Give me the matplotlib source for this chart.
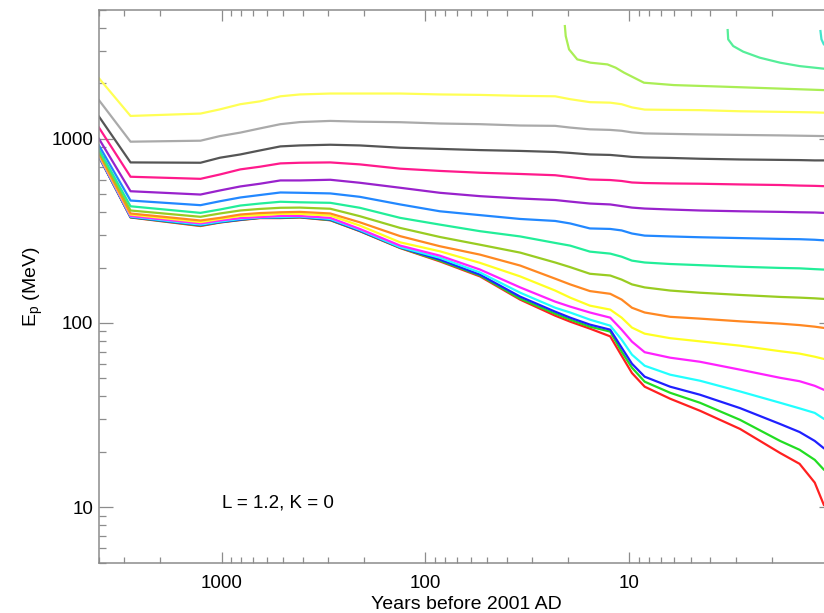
import numpy as np
import matplotlib
matplotlib.use("Agg")
import matplotlib.pyplot as plt
from matplotlib.ticker import FixedLocator, LogLocator, NullFormatter, FuncFormatter

plt.rcParams['font.family'] = ['Liberation Sans', 'DejaVu Sans']

# Years before 2001 AD (common sampling for the main family of curves)
years = [4000, 2800, 1270, 1020, 810, 649, 515, 413, 293, 210, 133, 85, 54, 34.3, 23.1,
         19.5, 15.6, 12.4, 10.9, 9.7, 8.4, 6.3, 4.5, 2.86, 1.82, 1.46, 1.23, 1.11, 1.0]

# Cutoff energies (MeV), curves from top to bottom
ep_lightyellow = [2130, 1330, 1370, 1444, 1540, 1596, 1700, 1740, 1760, 1760, 1760, 1740, 1730, 1710, 1700,
                  1640, 1580, 1570, 1540, 1480, 1440, 1435, 1430, 1410, 1400, 1395, 1390, 1385, 1382]
ep_lightgray = [1620, 964, 976, 1034, 1080, 1138, 1200, 1232, 1250, 1238, 1230, 1210, 1200, 1180, 1175,
                1150, 1125, 1117, 1105, 1083, 1069, 1063, 1056, 1049, 1043, 1039, 1036, 1034, 1030]
ep_darkgray = [1320, 744, 741, 789, 822, 864, 909, 920, 928, 920, 894, 881, 868, 859, 848,
               838, 822, 817, 807, 797, 792, 787, 779, 772, 768, 766, 763, 763, 761]
ep_pink = [1150, 622, 606, 640, 682, 705, 735, 741, 744, 726, 688, 669, 654, 644, 634,
           620, 601, 597, 590, 579, 575, 572, 570, 565, 561, 557, 555, 553, 551]
ep_purple = [1000, 519, 498, 524, 551, 570, 594, 594, 599, 577, 542, 509, 488, 474, 465,
             456, 445, 440, 431, 423, 418, 413, 408, 404, 401, 399, 398, 396, 395]
ep_azure = [920, 462, 436, 458, 480, 495, 511, 509, 505, 484, 440, 404, 385, 367, 358,
            347, 326, 324, 318, 306, 298, 295, 292, 289, 286, 285, 283, 281, 280]
ep_springgreen = [875, 430, 396, 413, 434, 445, 455, 452, 449, 422, 372, 342, 315, 295, 272,
                  263, 244, 238, 229, 218, 213, 209, 206, 202, 199, 198, 196, 195, 194]
ep_yellowgreen = [854, 408, 377, 393, 408, 416, 422, 423, 417, 380, 328, 293, 266, 241, 213,
                  201, 185, 181, 172, 162, 156, 150, 146, 142, 138.5, 137.3, 136.1, 135.1, 134.4]
ep_orange = [833, 393, 360, 372, 388, 395, 399, 401, 393, 352, 296, 261, 235, 205, 174,
             162, 149, 144, 134, 121, 114, 108, 105.6, 102.1, 99.2, 97.4, 95.5, 94.0, 93.2]
ep_yellow = [822, 388, 353, 367, 381, 385, 391, 391, 383, 338, 274, 245, 212, 179, 150,
             137.3, 124.2, 118.2, 106.9, 94.4, 87.5, 82.7, 79.5, 75.3, 70.3, 68.2, 65.6, 63.8, 62.8]
ep_magenta = [812, 381, 347, 360, 371, 376, 381, 381, 372, 324, 263, 232, 195, 156, 130.6,
              122.7, 114, 106.9, 92.0, 79.2, 69.4, 64.8, 61.6, 55.8, 50.4, 48.3, 45.6, 43.4, 42.3]
ep_cyan = [807, 378, 342, 355, 367, 374, 376, 378, 367, 320, 258, 226, 188, 146, 121,
           114, 104.3, 96.7, 81.2, 67.3, 58.6, 52.4, 48.6, 42.5, 36.9, 34.4, 32.5, 30.2, 29.1]
ep_blue = [802, 376, 340, 353, 364, 373, 374, 376, 364, 317, 257, 221, 183, 139, 115.2,
           106.9, 98.0, 92.0, 73.5, 60.1, 51.1, 45.1, 40.8, 34.5, 28.3, 25.6, 22.9, 20.9, 19.7]
ep_green = [802, 375, 338, 352, 363, 372, 372, 375, 362, 316, 256, 218, 181, 135.6, 112.4,
            104.3, 95.5, 89.8, 69.9, 57.2, 48.0, 41.8, 36.9, 29.8, 22.9, 20.5, 18.08, 16.0, 14.8]
ep_red = [799, 374, 336, 351, 362, 371, 371, 374, 361, 315, 255, 216, 179, 133.9, 109.6,
          101.7, 93.2, 84.6, 66.4, 53.5, 45.1, 38.8, 33.4, 26.6, 19.7, 17.2, 13.6, 10.3, np.nan]

# Curves that appear only in recent years (top right)
years_lightgreen = [20.7, 20.5, 19.75, 18.0, 15.5, 12.8, 11.66, 10.6, 8.47, 6.04, 3.43, 1.11, 1.0]
ep_lightgreen = [4090, 3610, 3057, 2697, 2588, 2533, 2431, 2284, 2015, 1956, 1917, 1837, 1833]
years_aqua = [3.29, 3.27, 3.09, 2.76, 2.29, 1.82, 1.46, 1.11, 1.0]
ep_aqua = [3890, 3464, 3186, 2970, 2755, 2588, 2480, 2401, 2385]
years_turq = [1.153, 1.14, 1.11, 1.0]
ep_turq = [3843, 3464, 3254, 2990]

x_tick_labels = {10: '10', 100: '100', 1000: '1000'}
y_tick_labels = {10: '10', 100: '100', 1000: '1000'}

series = [
    (years, ep_red, '#ff2020'),
    (years, ep_green, '#22dd22'),
    (years, ep_blue, '#2020ff'),
    (years, ep_cyan, '#22ffff'),
    (years, ep_magenta, '#ff22ff'),
    (years, ep_yellow, '#ffff22'),
    (years, ep_orange, '#ff8822'),
    (years, ep_yellowgreen, '#99cc22'),
    (years, ep_springgreen, '#22ee99'),
    (years, ep_azure, '#2288ff'),
    (years, ep_purple, '#9922cc'),
    (years, ep_pink, '#ff1a8c'),
    (years, ep_darkgray, '#555555'),
    (years, ep_lightgray, '#aaaaaa'),
    (years, ep_lightyellow, '#ffff55'),
    (years_lightgreen, ep_lightgreen, '#aaee55'),
    (years_aqua, ep_aqua, '#55ee99'),
    (years_turq, ep_turq, '#44e6cc'),
]

fig = plt.figure(figsize=(8.24, 6.13), dpi=100)
ax = fig.add_axes([0.1201, 0.0821, 0.8909, 0.9016])

for xs, ys, c in series:
    ax.plot(xs, ys, color=c, lw=1.6, solid_joinstyle='round')

ax.set_xscale('log')
ax.set_yscale('log')
ax.set_xlim(4000, 1)
ax.set_ylim(5, 5000)

def make_fmt(labels):
    return FuncFormatter(lambda v, p: labels.get(int(round(v)), ''))

ax.xaxis.set_major_locator(FixedLocator([1, 10, 100, 1000]))
ax.xaxis.set_major_formatter(make_fmt(x_tick_labels))
ax.yaxis.set_major_locator(FixedLocator([1, 10, 100, 1000]))
ax.yaxis.set_major_formatter(make_fmt(y_tick_labels))
for axis in (ax.xaxis, ax.yaxis):
    axis.set_minor_locator(LogLocator(base=10, subs=np.arange(2, 10), numticks=20))
    axis.set_minor_formatter(NullFormatter())

gray = '#8c8c8c'
for s in ax.spines.values():
    s.set_color(gray)
    s.set_linewidth(1.1)

ax.tick_params(axis='both', which='both', direction='in', top=True, right=True,
               color=gray, width=0.9, labelsize=13.5, labelcolor='black')
ax.tick_params(axis='x', which='major', length=8, pad=9)
ax.tick_params(axis='x', which='minor', length=4.5)
ax.tick_params(axis='y', which='major', length=10, pad=4)
ax.tick_params(axis='y', which='minor', length=5)

ax.set_xlabel('Years before 2001 AD', fontsize=14, labelpad=3)
ax.set_ylabel('E$_\\mathregular{p}$ (MeV)', fontsize=14, labelpad=5)

ax.text(1000, 10.6, 'L = 1.2, K = 0', fontsize=13.5, ha='left', va='center')

fig.savefig('out.png', dpi=100)
